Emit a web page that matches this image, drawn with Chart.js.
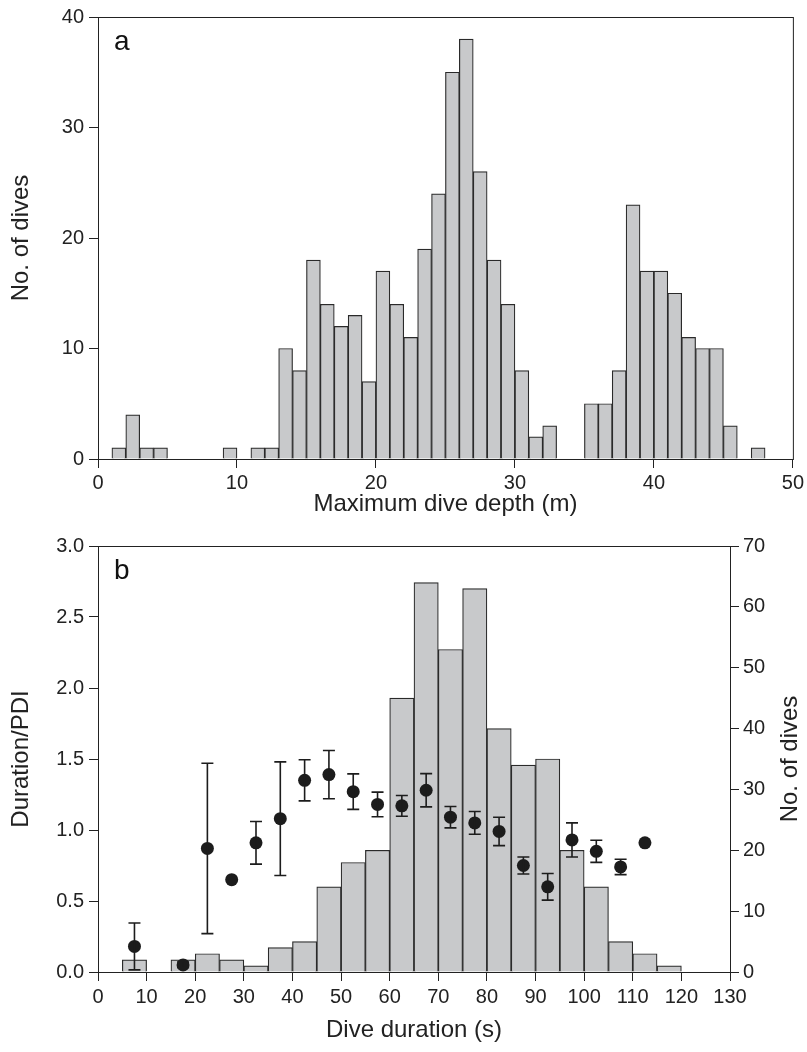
<!DOCTYPE html>
<html>
<head>
<meta charset="utf-8">
<script src="https://cdn.jsdelivr.net/npm/chart.js@4.4.1/dist/chart.umd.min.js"></script>
<style>
  html, body { margin: 0; padding: 0; background: #fff; }
  #wrap { position: relative; width: 807px; height: 1052px; }
  .box { position: absolute; left: 0; width: 807px; }
  #boxA { top: 0; height: 540px; z-index: 2; }
  #boxB { top: 515px; height: 537px; z-index: 1; }
</style>
</head>
<body>
<div id="wrap">
  <div class="box" id="boxA"><canvas id="depthChart"></canvas></div>
  <div class="box" id="boxB"><canvas id="durationChart"></canvas></div>
</div>
<script>
// panel a: max dive depth, 1 m bins (lower edge of each bin)
const depthBins = [0, 1, 2, 3, 4, 5, 6, 7, 8, 9, 10, 11, 12, 13, 14, 15, 16, 17, 18, 19,
  20, 21, 22, 23, 24, 25, 26, 27, 28, 29, 30, 31, 32, 33, 34, 35, 36, 37, 38, 39,
  40, 41, 42, 43, 44, 45, 46, 47, 48, 49];
const depthCounts = [0, 1, 4, 1, 1, 0, 0, 0, 0, 1, 0, 1, 1, 10, 8, 18, 14, 12, 13, 7,
  17, 14, 11, 19, 24, 35, 38, 26, 18, 14, 8, 2, 3, 0, 0, 5, 5, 8, 23, 17,
  17, 15, 11, 10, 10, 3, 0, 1, 0, 0];

// panel b: dive duration, 5 s bins (lower edge)
const durationBins = [0, 5, 10, 15, 20, 25, 30, 35, 40, 45, 50, 55, 60, 65, 70, 75, 80, 85,
  90, 95, 100, 105, 110, 115, 120, 125];
const durationCounts = [0, 2, 0, 2, 3, 2, 1, 4, 5, 14, 18, 20, 45, 64, 53, 63, 40, 34,
  35, 20, 14, 5, 3, 1, 0, 0];

// duration/PDI means at bin mid points, +/- error (null = no bar)
const pdiX = [7.5, 17.5, 22.5, 27.5, 32.5, 37.5, 42.5, 47.5, 52.5, 57.5, 62.5, 67.5,
  72.5, 77.5, 82.5, 87.5, 92.5, 97.5, 102.5, 107.5, 112.5];
const pdiMean = [0.18, 0.05, 0.87, 0.65, 0.91, 1.08, 1.35, 1.39, 1.27, 1.18, 1.17, 1.28,
  1.09, 1.05, 0.99, 0.75, 0.60, 0.93, 0.85, 0.74, 0.91];
const pdiErr = [0.165, 0.02, 0.60, null, 0.15, 0.40, 0.145, 0.17, 0.125, 0.087, 0.073, 0.117,
  0.075, 0.08, 0.10, 0.06, 0.094, 0.12, 0.078, 0.054, null];

const depthTicks = [0, 10, 20, 30, 40, 50];
const FONT = "'Liberation Sans', Arial, sans-serif";
const INK = '#222';
const BAR_FILL = '#c8c9cb';

Chart.defaults.font.family = FONT;
Chart.defaults.color = INK;
Chart.defaults.animation = false;

const tickFont = { size: 20 };
const titleFont = { size: 24 };

// box round the plot area, panel letter, and the right-hand title (reads upward like the left one)
const framePlugin = {
  id: 'frame',
  afterDraw(chart, args, opts) {
    const { ctx, chartArea: a } = chart;
    ctx.save();
    ctx.strokeStyle = INK;
    ctx.lineWidth = 1;
    ctx.strokeRect(a.left + 0.5, a.top + 0.5, a.right - a.left, a.bottom - a.top);
    ctx.fillStyle = '#111';
    ctx.font = '28px ' + FONT;
    ctx.textBaseline = 'alphabetic';
    ctx.fillText(opts.letter, a.left + 16, a.top + 33);
    if (opts.rightTitle) {
      const s = chart.scales.y1;
      ctx.translate(s.right - 17, (a.top + a.bottom) / 2);
      ctx.rotate(-Math.PI / 2);
      ctx.font = titleFont.size + 'px ' + FONT;
      ctx.fillStyle = INK;
      ctx.textAlign = 'center';
      ctx.textBaseline = 'middle';
      ctx.fillText(opts.rightTitle, 0, 0);
    }
    ctx.restore();
  }
};

const errorBarPlugin = {
  id: 'errorBars',
  afterDatasetsDraw(chart) {
    const { ctx } = chart;
    const xs = chart.scales.x, ys = chart.scales.y;
    ctx.save();
    ctx.strokeStyle = '#1c1c1c';
    ctx.lineWidth = 1.6;
    pdiX.forEach((x, i) => {
      const e = pdiErr[i];
      if (e == null) return;
      const px = xs.getPixelForValue(x);
      const top = ys.getPixelForValue(pdiMean[i] + e);
      const bot = ys.getPixelForValue(pdiMean[i] - e);
      ctx.beginPath();
      ctx.moveTo(px, top); ctx.lineTo(px, bot);
      ctx.moveTo(px - 6, top); ctx.lineTo(px + 6, top);
      ctx.moveTo(px - 6, bot); ctx.lineTo(px + 6, bot);
      ctx.stroke();
    });
    ctx.restore();
  }
};

function axisGrid() {
  return { drawOnChartArea: false, drawTicks: true, tickLength: 9, color: INK, lineWidth: 1 };
}

// ---------- panel a ----------
const depthData = [];
depthBins.forEach((b, i) => {
  if (depthCounts[i] > 0) depthData.push({ x: b + 0.5, y: depthCounts[i] });
});

new Chart(document.getElementById('depthChart'), {
  type: 'bar',
  data: {
    datasets: [{
      label: 'No. of dives',
      data: depthData,
      backgroundColor: BAR_FILL,
      borderColor: '#2a2a2a',
      borderWidth: 1.2,
      barPercentage: 1,
      categoryPercentage: 1,
      grouped: false
    }]
  },
  options: {
    responsive: true,
    maintainAspectRatio: false,
    layout: { padding: { top: 17, right: 10, left: 0, bottom: 0 } },
    plugins: {
      legend: { display: false },
      tooltip: { enabled: false },
      frame: { letter: 'a' }
    },
    scales: {
      x: {
        type: 'linear',
        min: 0, max: 50,
        offset: false,
        grid: Object.assign(axisGrid(), { offset: false }),
        border: { display: true, color: INK },
        afterBuildTicks: s => { s.ticks = depthTicks.map(v => ({ value: v })); },
        ticks: { font: tickFont, padding: 3, maxRotation: 0, autoSkip: false },
        title: { display: true, text: 'Maximum dive depth (m)', font: titleFont, padding: { top: 0, bottom: 21 } },
        afterFit: s => { s.height = 81; }
      },
      y: {
        min: 0, max: 40,
        grid: axisGrid(),
        border: { display: true, color: INK },
        ticks: { stepSize: 10, font: tickFont, padding: 5 },
        title: { display: true, text: 'No. of dives', font: titleFont, padding: { top: 7, bottom: 0 } },
        afterFit: s => { s.width = 98; }
      }
    }
  },
  plugins: [framePlugin]
});

// ---------- panel b ----------
const durationData = [];
durationBins.forEach((b, i) => {
  if (durationCounts[i] > 0) durationData.push({ x: b + 2.5, y: durationCounts[i] });
});
const pdiData = pdiX.map((x, i) => ({ x: x, y: pdiMean[i] }));

new Chart(document.getElementById('durationChart'), {
  type: 'bar',
  data: {
    datasets: [{
      type: 'scatter',
      label: 'Duration/PDI',
      data: pdiData,
      yAxisID: 'y',
      pointRadius: 6.5,
      pointBackgroundColor: '#1c1c1c',
      pointBorderWidth: 0,
      order: 1
    }, {
      label: 'No. of dives',
      data: durationData,
      yAxisID: 'y1',
      backgroundColor: BAR_FILL,
      borderColor: '#2a2a2a',
      borderWidth: 1.2,
      barPercentage: 1,
      categoryPercentage: 1,
      grouped: false,
      order: 2
    }]
  },
  options: {
    responsive: true,
    maintainAspectRatio: false,
    layout: { padding: { top: 31, right: 0, left: 0, bottom: 0 } },
    plugins: {
      legend: { display: false },
      tooltip: { enabled: false },
      frame: { letter: 'b', rightTitle: 'No. of dives' }
    },
    scales: {
      x: {
        type: 'linear',
        min: 0, max: 130,
        offset: false,
        grid: Object.assign(axisGrid(), { offset: false }),
        border: { display: true, color: INK },
        ticks: { stepSize: 10, font: tickFont, padding: 4, maxRotation: 0, autoSkip: false },
        title: { display: true, text: 'Dive duration (s)', font: titleFont, padding: { top: 0, bottom: 7 } },
        afterFit: s => { s.height = 80; }
      },
      y: {
        position: 'left',
        min: 0, max: 3,
        grid: axisGrid(),
        border: { display: true, color: INK },
        ticks: { stepSize: 0.5, font: tickFont, padding: 5, callback: v => v.toFixed(1) },
        title: { display: true, text: 'Duration/PDI', font: titleFont, padding: { top: 7, bottom: 0 } },
        afterFit: s => { s.width = 98; }
      },
      y1: {
        position: 'right',
        min: 0, max: 70,
        grid: axisGrid(),
        border: { display: true, color: INK },
        ticks: { stepSize: 10, font: tickFont, padding: 4 },
        afterFit: s => { s.width = 77; }
      }
    }
  },
  plugins: [framePlugin, errorBarPlugin]
});
</script>
</body>
</html>
